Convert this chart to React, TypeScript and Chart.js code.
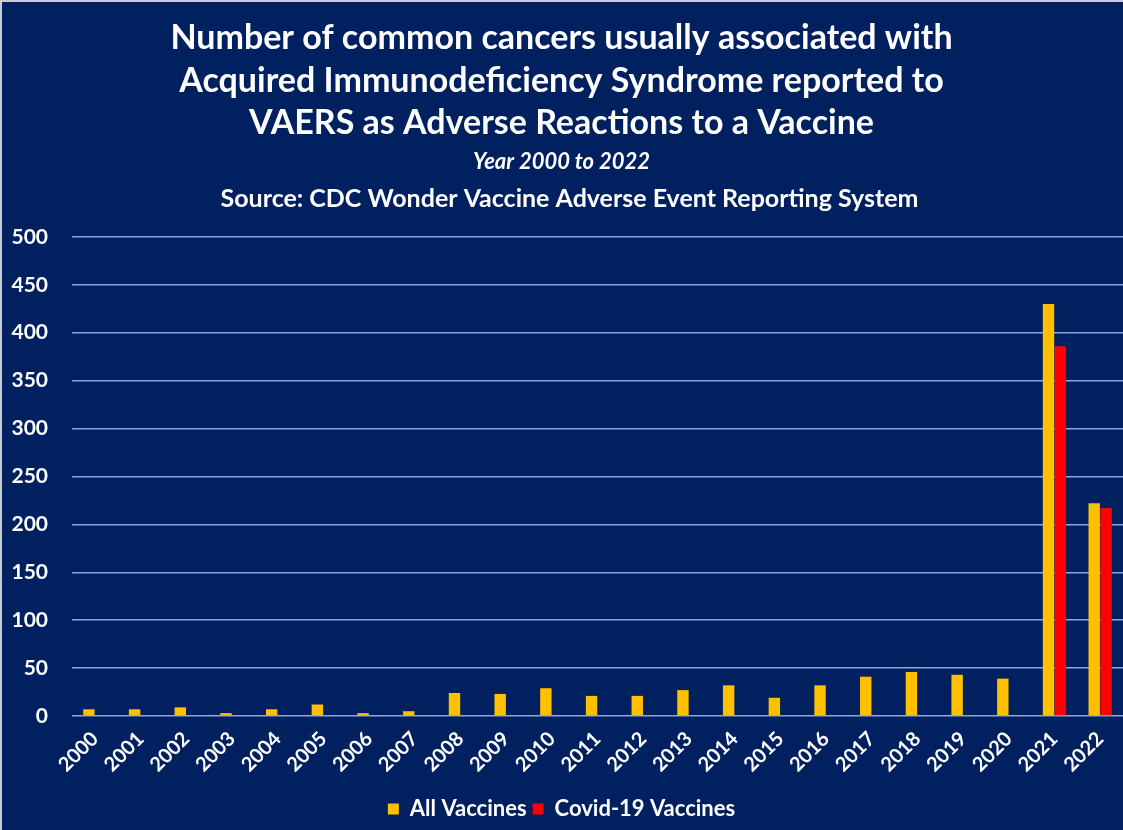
import React, { useEffect, useRef } from "react";
import { Chart, registerables } from "chart.js";

Chart.register(...registerables);

const years = [
  "2000", "2001", "2002", "2003", "2004", "2005", "2006", "2007", "2008", "2009", "2010", "2011",
  "2012", "2013", "2014", "2015", "2016", "2017", "2018", "2019", "2020", "2021", "2022",
];
const allVaccines = [7, 7, 9, 3, 7, 12, 3, 5, 24, 23, 29, 21, 21, 27, 32, 19, 32, 41, 46, 43, 39, 430, 222];
const covidVaccines: (number | null)[] = [
  null, null, null, null, null, null, null, null, null, null, null, null,
  null, null, null, null, null, null, null, null, null, 386, 217,
];
const seriesNames = ["All Vaccines", "Covid-19 Vaccines"];
const yMax = 500;
const yStep = 50;
const titleLines = [
  "Number of common cancers usually associated with",
  "Acquired Immunodeficiency Syndrome reported to",
  "VAERS as Adverse Reactions to a Vaccine",
];
const subtitleText = "Year 2000 to 2022";
const sourceText = "Source: CDC Wonder Vaccine Adverse Event Reporting System";

const BG = "#002060";
const GRID = "#8fa6d8";
const YELLOW = "#ffc000";
const RED = "#ff0000";
const FONT = "Lato, 'Open Sans', sans-serif";

export default function App() {
  const ref = useRef<HTMLCanvasElement | null>(null);

  useEffect(() => {
    const canvas = ref.current;
    if (!canvas) return;
    const bgPlugin = {
      id: "bgPlugin",
      beforeDraw(chart: any) {
        const { ctx, width, height } = chart;
        ctx.save();
        ctx.fillStyle = BG;
        ctx.fillRect(0, 0, width, height);
        ctx.fillStyle = "#c9ccd6";
        ctx.fillRect(0, 0, width, 2);
        ctx.fillRect(0, 0, 2, height);
        ctx.restore();
      },
      afterDraw(chart: any) {
        const { ctx, width, chartArea } = chart;
        ctx.save();
        ctx.fillStyle = "#ffffff";
        ctx.font = `bold 25px ${FONT}`;
        ctx.textAlign = "center";
        ctx.textBaseline = "middle";
        ctx.fillText(sourceText, width / 2 + 8, chartArea.top - 38);
        ctx.restore();
      },
    };

    const chart = new Chart(canvas, {
      type: "bar",
      data: {
        labels: years,
        datasets: [
          {
            label: seriesNames[0],
            data: allVaccines,
            backgroundColor: YELLOW,
            barPercentage: 0.96,
            categoryPercentage: 0.52,
          },
          {
            label: seriesNames[1],
            data: covidVaccines,
            backgroundColor: RED,
            barPercentage: 0.96,
            categoryPercentage: 0.52,
          },
        ],
      },
      options: {
        responsive: false,
        animation: false,
        layout: { padding: { left: 0, right: 0, top: 0, bottom: 0 } },
        plugins: {
          title: {
            display: true,
            text: titleLines,
            color: "#ffffff",
            font: { family: FONT, size: 34, weight: "bold", lineHeight: 1.25 },
            padding: { top: 17, bottom: 3 },
          },
          subtitle: {
            display: true,
            text: subtitleText,
            color: "#ffffff",
            font: { family: FONT, size: 22, weight: "bold", style: "italic", lineHeight: 1.2 },
            padding: { top: 1, bottom: 62 },
          },
          legend: {
            position: "bottom",
            labels: {
              color: "#ffffff",
              font: { family: FONT, size: 22, weight: "bold" },
              boxWidth: 11,
              boxHeight: 11,
              padding: 6,
            },
          },
          tooltip: { enabled: false },
        },
        scales: {
          x: {
            grid: { display: false },
            border: { display: false },
            afterFit: (scale: any) => {
              scale.height = 76;
            },
            ticks: {
              color: "#ffffff",
              font: { family: FONT, size: 20, weight: "bold" },
              minRotation: 45,
              maxRotation: 45,
              autoSkip: false,
              padding: 3,
            },
          },
          y: {
            min: 0,
            max: yMax,
            grid: { color: GRID, lineWidth: 1.5, drawTicks: false },
            border: { display: false },
            afterFit: (scale: any) => {
              scale.width = 72;
            },
            ticks: {
              stepSize: yStep,
              color: "#ffffff",
              font: { family: FONT, size: 21, weight: "bold" },
              padding: 24,
            },
          },
        },
      },
      plugins: [bgPlugin],
    } as any);

    return () => chart.destroy();
  }, []);

  return (
    <div style={{ position: "absolute", left: 0, top: 0, width: 1123, height: 830 }}>
      <canvas ref={ref} width={1123} height={830} style={{ display: "block" }} />
    </div>
  );
}
